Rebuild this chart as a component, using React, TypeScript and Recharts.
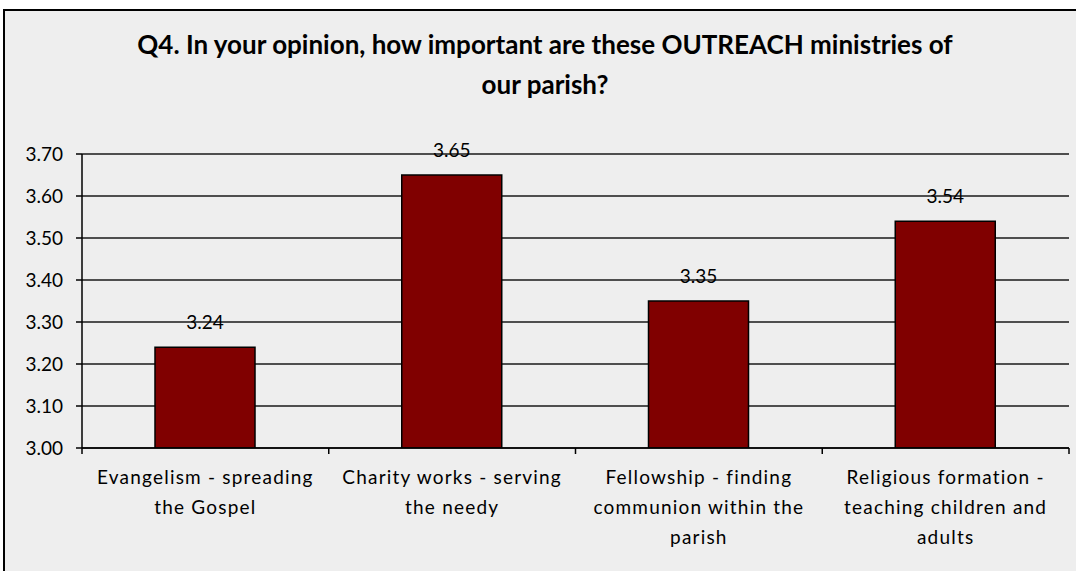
import React from "react";
import { BarChart, Bar, XAxis, YAxis, CartesianGrid, LabelList } from "recharts";

const categories = [
  "Evangelism - spreading the Gospel",
  "Charity works - serving the needy",
  "Fellowship - finding communion within the parish",
  "Religious formation - teaching children and adults",
];
const categoryLines = [
  ["Evangelism - spreading", "the Gospel"],
  ["Charity works - serving", "the needy"],
  ["Fellowship - finding", "communion within the", "parish"],
  ["Religious formation -", "teaching children and", "adults"],
];
const values = [3.24, 3.65, 3.35, 3.54];
const yTicks = [3.0, 3.1, 3.2, 3.3, 3.4, 3.5, 3.6, 3.7];
const titleLines = [
  "Q4. In your opinion, how important are these OUTREACH ministries of",
  "our parish?",
];

const data = categories.map((c, i) => ({ name: c, value: values[i], lines: categoryLines[i] }));

const FONT = "Lato, 'Open Sans', sans-serif";

const XTick = (props: any) => {
  const { x, y, payload, index, visibleTicksCount } = props;
  const half = payload && payload.offset ? payload.offset : 123.4;
  const lines = categoryLines[index] || [String(payload.value)];
  const isLast = index === visibleTicksCount - 1;
  return (
    <g>
      <line x1={x - half} x2={x - half} y1={y} y2={y + 6} stroke="#000" strokeWidth={1.5} />
      {isLast && (
        <line x1={x + half} x2={x + half} y1={y} y2={y + 6} stroke="#000" strokeWidth={1.5} />
      )}
      {lines.map((l: string, i: number) => (
        <text
          key={i}
          x={x}
          y={y + 36 + i * 30}
          textAnchor="middle"
          fontFamily={FONT}
          fontSize={19}
          letterSpacing={1.2}
          fill="#000"
        >
          {l}
        </text>
      ))}
    </g>
  );
};

export default function App() {
  return (
    <div
      style={{
        position: "absolute",
        left: 0,
        top: 0,
        width: 1076,
        height: 571,
        background: "#fff",
        overflow: "hidden",
      }}
    >
      <div
        style={{
          position: "absolute",
          left: 3,
          top: 9,
          width: 1200,
          height: 700,
          borderLeft: "2px solid #000",
          borderTop: "2px solid #000",
          background: "#eeeeee",
        }}
      />
      <div
        style={{
          position: "absolute",
          left: 0,
          top: 24,
          width: 1090,
          textAlign: "center",
          fontFamily: FONT,
          fontWeight: 700,
          fontSize: 26,
          lineHeight: "40px",
          color: "#000",
        }}
      >
        {titleLines.map((t, i) => (
          <div key={i}>{t}</div>
        ))}
      </div>
      <div style={{ position: "absolute", left: 0, top: 0 }}>
        <BarChart
          width={1076}
          height={571}
          data={data}
          margin={{ top: 154, right: 7, bottom: 0, left: 0 }}
          barSize={100}
        >
          <CartesianGrid vertical={false} stroke="#000" strokeWidth={1.5} strokeOpacity={0.9} />
          <XAxis
            dataKey="name"
            axisLine={{ stroke: "#000", strokeWidth: 1.5 }}
            tickLine={false}
            tickSize={0}
            tickMargin={0}
            tick={<XTick />}
            interval={0}
            height={123}
          />
          <YAxis
            width={82}
            domain={[3, 3.7]}
            ticks={yTicks}
            interval={0}
            tickFormatter={(v: number) => v.toFixed(2)}
            axisLine={{ stroke: "#000", strokeWidth: 1.5 }}
            tickLine={{ stroke: "#000", strokeWidth: 1.5 }}
            tickSize={6}
            tickMargin={13}
            tick={{ fontFamily: FONT, fontSize: 19, fill: "#000" }}
            allowDataOverflow
          />
          <Bar dataKey="value" fill="#800000" stroke="#000" strokeWidth={1.5} isAnimationActive={false}>
            <LabelList
              dataKey="value"
              position="top"
              offset={18}
              formatter={(v: number) => v.toFixed(2)}
              style={{ fontFamily: FONT, fontSize: 19, fill: "#000" }}
            />
          </Bar>
        </BarChart>
      </div>
    </div>
  );
}
